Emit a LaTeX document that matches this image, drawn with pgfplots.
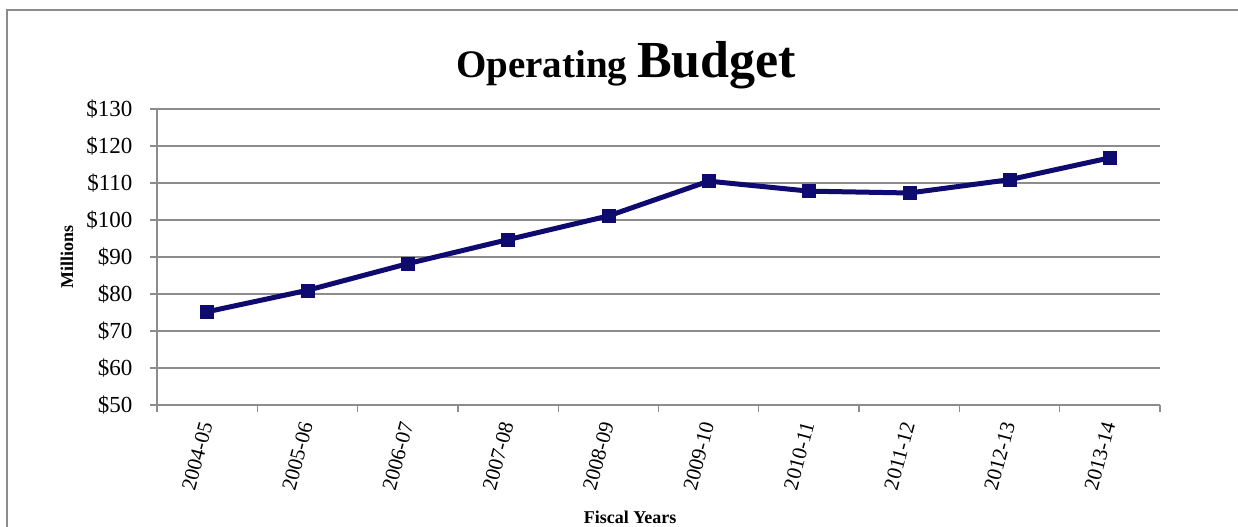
\documentclass[border=0pt]{standalone}
\usepackage{fontspec}
\setmainfont{Liberation Serif}
\usepackage{pgfplots}
\pgfplotsset{compat=1.18}
\definecolor{navyline}{RGB}{14,10,112}
\definecolor{gridgray}{RGB}{140,140,140}
\begin{document}
\begin{tikzpicture}
\useasboundingbox (0,0) rectangle (1238bp,527bp);
\draw[gridgray, line width=2bp] (7bp,0) -- (7bp,517bp) -- (1238bp,517bp);
\begin{axis}[
  at={(157bp,122bp)}, anchor=south west,
  scale only axis, width=1003bp, height=296bp,
  xmin=-0.5, xmax=9.5, ymin=50, ymax=130,
  axis x line*=bottom, axis y line*=left,
  axis line style={-, gridgray, line width=1.3bp},
  xtick={0,1,2,3,4,5,6,7,8,9},
  xticklabels={2004-05,2005-06,2006-07,2007-08,2008-09,2009-10,2010-11,2011-12,2012-13,2013-14},
  minor xtick={-0.5,0.5,1.5,2.5,3.5,4.5,5.5,6.5,7.5,8.5,9.5},
  major x tick style={draw=none},
  ytick={50,60,70,80,90,100,110,120,130},
  yticklabels={\$50,\$60,\$70,\$80,\$90,\$100,\$110,\$120,\$130},
  ymajorgrids,
  grid style={gridgray, line width=1.3bp},
  tick align=outside,
  major tick length=7bp,
  minor tick length=7bp,
  tick style={gridgray, line width=1.3bp},
  yticklabel style={font=\fontsize{23bp}{27bp}\selectfont, black, xshift=-14bp},
  xticklabel style={font=\fontsize{21bp}{25bp}\selectfont, black, yshift=-7bp, rotate=75, anchor=east},
  ylabel={Millions},
  ylabel style={at={(axis description cs:-0.0897,0.5)}, anchor=center, font=\bfseries\fontsize{18bp}{22bp}\selectfont},
  xlabel={Fiscal Years},
  xlabel style={at={(axis description cs:0.4716,-0.378)}, anchor=center, font=\bfseries\fontsize{18bp}{22bp}\selectfont},
  clip=false,
]
\addplot[navyline, line width=5bp, mark=square*, mark size=6.5bp, mark options={solid, fill=navyline, draw=navyline, line width=0.5bp}]
coordinates {(0,75.2) (1,81.0) (2,88.2) (3,94.7) (4,101.1) (5,110.5) (6,107.8) (7,107.3) (8,110.9) (9,116.8)};
\node[anchor=base, font=\bfseries] at (axis description cs:0.4676,1.105)
  {{\fontsize{39bp}{45bp}\selectfont Operating }{\fontsize{52bp}{60bp}\selectfont Budget}};
\end{axis}
\end{tikzpicture}
\end{document}
